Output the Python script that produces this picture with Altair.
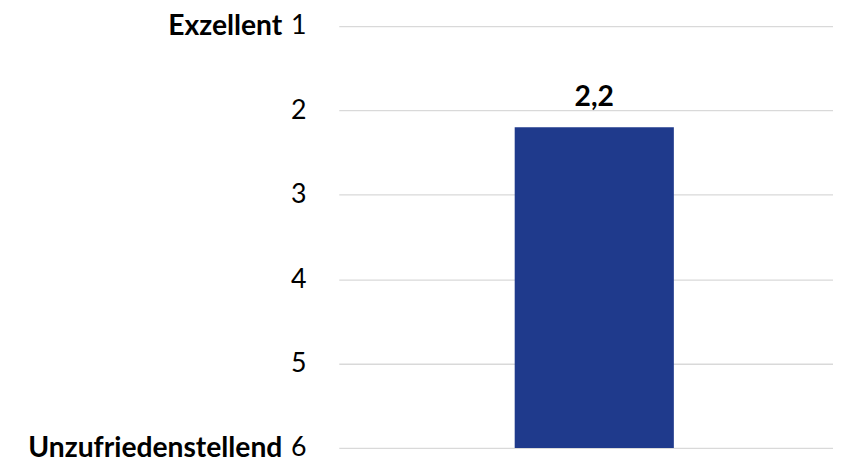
import altair as alt
import pandas as pd

categories = ["Bewertung"]
values = [2.2]
value_labels = ["2,2"]
scale_ticks = [1, 2, 3, 4, 5, 6]
end_labels = ["Exzellent", "Unzufriedenstellend"]
end_positions = [1, 6]

bars = pd.DataFrame({"cat": categories, "value": values, "label": value_labels, "base": [6] * len(values)})
ends = pd.DataFrame({"label": end_labels, "pos": end_positions})

FONT = "Lato"
FS = 27
FSB = 28.5
ydom = alt.Scale(domain=[1, 6], reverse=True, nice=False, zero=False)
xsc = alt.Scale(paddingInner=0.05, paddingOuter=1, align=0.525)

bar = alt.Chart(bars).mark_bar(color="#1F3A8C").encode(
    x=alt.X("cat:N", scale=xsc, axis=None),
    y=alt.Y("value:Q", scale=ydom,
            axis=alt.Axis(values=scale_ticks, format="d", title=None, domain=False, ticks=False,
                          grid=True, gridColor="#D9D9D9", gridWidth=1.3,
                          labelFont=FONT, labelFontSize=FS, labelColor="#000000",
                          labelPadding=33)),
    y2="base:Q",
)

txt = alt.Chart(bars).mark_text(font=FONT, fontSize=FSB, fontWeight="bold", color="#000000",
                                baseline="alphabetic", dy=-21).encode(
    x=alt.X("cat:N", scale=xsc, axis=None),
    y=alt.Y("value:Q", scale=ydom),
    text="label:N",
)

endtxt = alt.Chart(ends).mark_text(font=FONT, fontSize=FSB, fontWeight="bold", color="#000000",
                                   align="right", baseline="middle").encode(
    x=alt.value(-57),
    y=alt.Y("pos:Q", scale=ydom),
    text="label:N",
)

chart = alt.layer(bar, txt, endtxt).properties(
    width=499, height=426,
    autosize=alt.AutoSizeParams(type="none"),
    padding={"left": 334, "top": 16, "right": 0, "bottom": 12},
).configure(background="white").configure_view(stroke=None, strokeWidth=0)

chart.save("out.html", embed_options={"renderer": "svg", "actions": False})
